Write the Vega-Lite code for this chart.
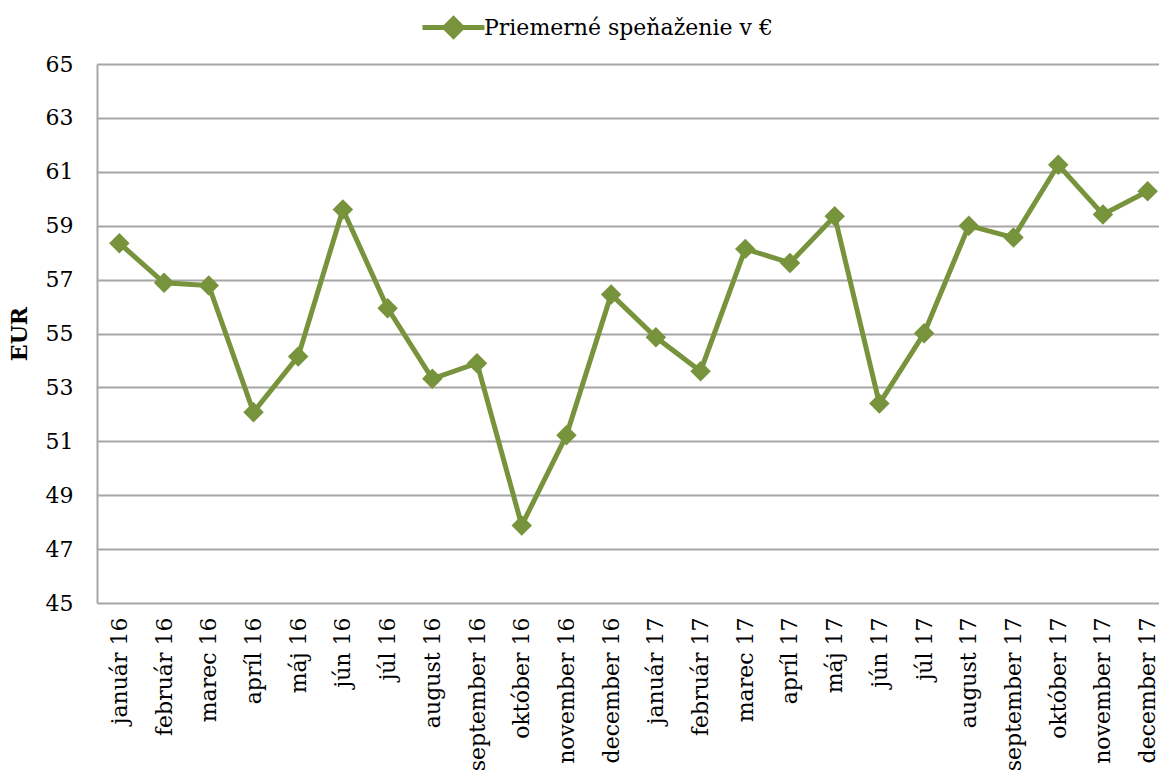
{
  "$schema": "https://vega.github.io/schema/vega-lite/v6.json",
  "width": 1062,
  "height": 539,
  "autosize": {"type": "none"},
  "padding": {"left": 97, "top": 64, "right": 0, "bottom": 173},
  "background": "white",
  "config": {
    "font": "DejaVu Serif",
    "view": {"stroke": null}
  },
  "data": {
    "values": [
      {"mesiac": "január 16", "hodnota": 58.35, "seria": "Priemerné speňaženie v €"},
      {"mesiac": "február 16", "hodnota": 56.88, "seria": "Priemerné speňaženie v €"},
      {"mesiac": "marec 16", "hodnota": 56.78, "seria": "Priemerné speňaženie v €"},
      {"mesiac": "apríl 16", "hodnota": 52.08, "seria": "Priemerné speňaženie v €"},
      {"mesiac": "máj 16", "hodnota": 54.15, "seria": "Priemerné speňaženie v €"},
      {"mesiac": "jún 16", "hodnota": 59.6, "seria": "Priemerné speňaženie v €"},
      {"mesiac": "júl 16", "hodnota": 55.94, "seria": "Priemerné speňaženie v €"},
      {"mesiac": "august 16", "hodnota": 53.32, "seria": "Priemerné speňaženie v €"},
      {"mesiac": "september 16", "hodnota": 53.9, "seria": "Priemerné speňaženie v €"},
      {"mesiac": "október 16", "hodnota": 47.88, "seria": "Priemerné speňaženie v €"},
      {"mesiac": "november 16", "hodnota": 51.22, "seria": "Priemerné speňaženie v €"},
      {"mesiac": "december 16", "hodnota": 56.45, "seria": "Priemerné speňaženie v €"},
      {"mesiac": "január 17", "hodnota": 54.86, "seria": "Priemerné speňaženie v €"},
      {"mesiac": "február 17", "hodnota": 53.6, "seria": "Priemerné speňaženie v €"},
      {"mesiac": "marec 17", "hodnota": 58.14, "seria": "Priemerné speňaženie v €"},
      {"mesiac": "apríl 17", "hodnota": 57.62, "seria": "Priemerné speňaženie v €"},
      {"mesiac": "máj 17", "hodnota": 59.35, "seria": "Priemerné speňaženie v €"},
      {"mesiac": "jún 17", "hodnota": 52.4, "seria": "Priemerné speňaženie v €"},
      {"mesiac": "júl 17", "hodnota": 55.01, "seria": "Priemerné speňaženie v €"},
      {"mesiac": "august 17", "hodnota": 59.0, "seria": "Priemerné speňaženie v €"},
      {"mesiac": "september 17", "hodnota": 58.56, "seria": "Priemerné speňaženie v €"},
      {"mesiac": "október 17", "hodnota": 61.26, "seria": "Priemerné speňaženie v €"},
      {"mesiac": "november 17", "hodnota": 59.42, "seria": "Priemerné speňaženie v €"},
      {"mesiac": "december 17", "hodnota": 60.28, "seria": "Priemerné speňaženie v €"}
    ]
  },
  "mark": {
    "type": "line",
    "strokeWidth": 5,
    "point": {"shape": "diamond", "size": 420, "filled": true, "color": "#77933C", "opacity": 1}
  },
  "encoding": {
    "x": {
      "field": "mesiac",
      "type": "ordinal",
      "sort": null,
      "scale": {"type": "point", "range": [0, 1073], "padding": 0.5},
      "axis": {
        "title": null,
        "labelAngle": -90,
        "labelFontSize": 22,
        "labelFont": "DejaVu Serif",
        "labelColor": "#000000",
        "labelPadding": 14,
        "ticks": false,
        "domain": false,
        "grid": false
      }
    },
    "y": {
      "field": "hodnota",
      "type": "quantitative",
      "scale": {"domain": [45, 65], "nice": false, "zero": false},
      "axis": {
        "values": [45, 47, 49, 51, 53, 55, 57, 59, 61, 63, 65],
        "title": "EUR",
        "titleFont": "DejaVu Serif",
        "titleFontWeight": "bold",
        "titleFontSize": 22,
        "titleColor": "#000000",
        "titlePadding": 14,
        "labelFontSize": 22,
        "labelFont": "DejaVu Serif",
        "labelColor": "#000000",
        "labelPadding": 24,
        "ticks": false,
        "domainColor": "#A6A6A6",
        "domainWidth": 2,
        "gridColor": "#A6A6A6",
        "gridWidth": 2,
        "gridOpacity": 1
      }
    },
    "color": {
      "field": "seria",
      "type": "nominal",
      "scale": {"range": ["#77933C"]},
      "legend": {
        "title": null,
        "orient": "none",
        "legendX": 323,
        "legendY": -70,
        "padding": 0,
        "symbolType": "M-1,0L1,0M-0.28,0L0,-0.28L0.28,0L0,0.28Z",
        "symbolSize": 3844,
        "symbolStrokeWidth": 5,
        "symbolFillColor": "#77933C",
        "symbolStrokeColor": "#77933C",
        "symbolOpacity": 1,
        "labelFont": "DejaVu Serif",
        "labelFontSize": 22,
        "labelColor": "#000000",
        "labelOffset": -3,
        "labelLimit": 0
      }
    }
  }
}
